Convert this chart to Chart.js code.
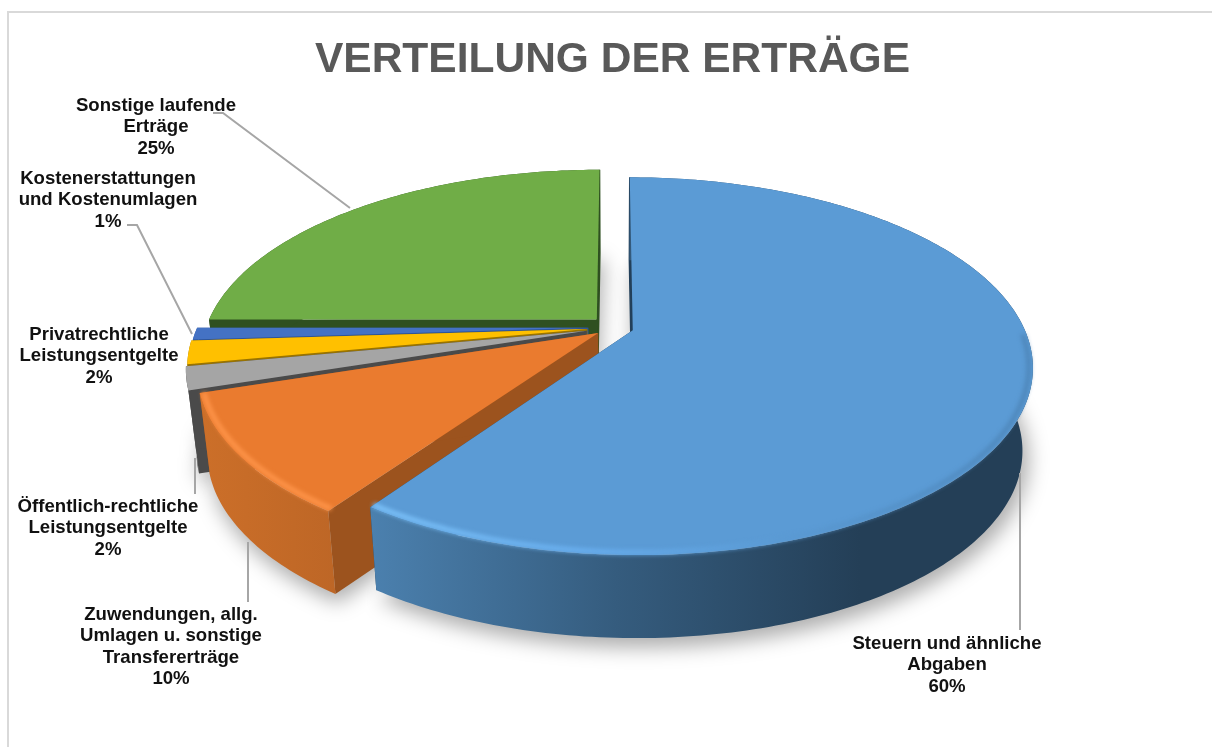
<!DOCTYPE html>
<html lang="de">
<head>
  <meta charset="UTF-8">
  <title>Verteilung der Erträge</title>
  <script src="https://cdn.jsdelivr.net/npm/chart.js"></script>
  <style>
    html, body { margin: 0; padding: 0; background: #fff; }
    canvas { display: block; }
  </style>
</head>
<body>
  <canvas id="pie" width="1212" height="747"></canvas>

  <script>
    const TITLE = 'VERTEILUNG DER ERTRÄGE';
    const categories = [
      ['Steuern und ähnliche', 'Abgaben'],
      ['Zuwendungen, allg.', 'Umlagen u. sonstige', 'Transfererträge'],
      ['Öffentlich-rechtliche', 'Leistungsentgelte'],
      ['Privatrechtliche', 'Leistungsentgelte'],
      ['Kostenerstattungen', 'und Kostenumlagen'],
      ['Sonstige laufende', 'Erträge']
    ];
    const values = [59.7, 10.3, 2, 2, 1, 25];

    const topColors = ['#5b9bd5', '#ea7b2f', '#a5a5a5', '#ffc000', '#4472c4', '#70ad47'];
    const wallColors = ['#23405a', '#9c531e', '#4a4a4a', '#997300', '#2f5597', '#2f5021'];
    const explode = [16, 16, 23, 22, 21, 20];

    // label block: centre x, y of first line; leader line points
    const labelSpots = [
      { x: 947, y: 644, leader: [[1020, 473], [1020, 630]] },
      { x: 171, y: 615, leader: [[248, 542], [248, 602]] },
      { x: 108, y: 507, leader: [[195, 458], [195, 494]] },
      { x: 99, y: 335, leader: null },
      { x: 108, y: 179, leader: [[127, 225], [137, 225], [192, 334]] },
      { x: 156, y: 106, leader: [[213, 113], [223, 113], [350, 208]] }
    ];

    // perspective view of the pie disc
    const VIEW = { cx: 614, cy: 327.5, rx: 391, ry: 181, k: 0.19, depth: 83, baseScale: 0.975 };

    function project(u, v, low) {
      const w = 1 + VIEW.k * v;
      const sx = u * VIEW.rx / w * (low ? VIEW.baseScale : 1);
      const sy = -v * VIEW.ry / w;
      return [VIEW.cx + sx, VIEW.cy + sy + (low ? VIEW.depth : 0)];
    }

    // point of a slice in screen space, from the arc element chart.js laid out
    function slicePoint(el, angle, frac, low) {
      const mid = (el.startAngle + el.endAngle) / 2;
      const off = el.options.offset / el.outerRadius;
      const u = Math.cos(mid) * off + Math.cos(angle) * frac;
      const v = -(Math.sin(mid) * off + Math.sin(angle) * frac);
      return project(u, v, low);
    }

    function arcPoints(el, frac, low, frontOnly) {
      const pts = [];
      const steps = Math.max(4, Math.ceil((el.endAngle - el.startAngle) * 60));
      for (let i = 0; i <= steps; i++) {
        const a = el.startAngle + (el.endAngle - el.startAngle) * i / steps;
        if (frontOnly && Math.sin(a) < 0.02) continue;
        pts.push(slicePoint(el, a, frac, low));
      }
      return pts;
    }

    function tracePoly(ctx, pts) {
      ctx.beginPath();
      pts.forEach((p, i) => i ? ctx.lineTo(p[0], p[1]) : ctx.moveTo(p[0], p[1]));
      ctx.closePath();
    }

    function sideFill(ctx, index) {
      if (index === 0) {
        const g = ctx.createLinearGradient(372, 0, 860, 0);
        g.addColorStop(0, '#4b80ae');
        g.addColorStop(0.5, '#355c7e');
        g.addColorStop(1, '#243f57');
        return g;
      }
      if (index === 1) {
        const g = ctx.createLinearGradient(200, 0, 340, 0);
        g.addColorStop(0, '#cc6f29');
        g.addColorStop(1, '#bd6626');
        return g;
      }
      return wallColors[index];
    }

    function rimStroke(ctx, index) {
      const g = ctx.createLinearGradient(372, 0, 1030, 0);
      if (index === 0) {
        g.addColorStop(0, 'rgba(125,195,250,1)');
        g.addColorStop(0.35, 'rgba(105,175,240,0.9)');
        g.addColorStop(0.6, 'rgba(91,155,213,0.9)');
        g.addColorStop(1, 'rgba(75,130,180,0.8)');
        return g;
      }
      if (index === 1) return 'rgba(255,150,75,0.95)';
      return null;
    }

    function drawSlice(ctx, el, index) {
      const centerTop = slicePoint(el, el.startAngle, 0, false);
      const centerLow = slicePoint(el, el.startAngle, 0, true);
      const top = arcPoints(el, 1, false);
      const low = arcPoints(el, 1, true);

      // the two radial walls, the ones seen nearly edge-on get a hairline
      ctx.fillStyle = ctx.strokeStyle = wallColors[index];
      ctx.lineWidth = 1.5;
      [0, top.length - 1].forEach(i => {
        tracePoly(ctx, [centerTop, top[i], low[i], centerLow]);
        ctx.fill();
        if ((index === 0 && i === 0) || (index === 5 && i > 0)) ctx.stroke();
      });

      // outer side
      ctx.fillStyle = sideFill(ctx, index);
      tracePoly(ctx, top.concat(low.slice().reverse()));
      ctx.fill();

      // top face
      ctx.fillStyle = topColors[index];
      tracePoly(ctx, [centerTop].concat(top));
      ctx.fill();

      // bevel along the front rim
      const rim = rimStroke(ctx, index);
      if (rim) {
        ctx.save();
        ctx.filter = 'blur(2px)';
        ctx.strokeStyle = rim;
        ctx.lineWidth = 5;
        ctx.lineJoin = 'round';
        ctx.beginPath();
        arcPoints(el, 0.99, false, true).forEach((p, i) => i ? ctx.lineTo(p[0], p[1]) : ctx.moveTo(p[0], p[1]));
        ctx.stroke();
        ctx.restore();
      }
    }

    const pie3d = {
      id: 'pie3d',
      beforeDraw(chart) {
        const ctx = chart.ctx;
        ctx.save();
        ctx.strokeStyle = '#d9d9d9';
        ctx.lineWidth = 2;
        ctx.beginPath();
        ctx.moveTo(8, 747);
        ctx.lineTo(8, 12);
        ctx.lineTo(1212, 12);
        ctx.stroke();
        ctx.restore();
      },
      beforeDatasetsDraw(chart) {
        const ctx = chart.ctx;
        const arcs = chart.getDatasetMeta(0).data;
        ctx.save();

        // soft ground shadow
        ctx.save();
        ctx.filter = 'blur(10px)';
        ctx.fillStyle = 'rgba(0,0,0,0.32)';
        arcs.forEach(el => {
          const low = arcPoints(el, 1.005, true);
          tracePoly(ctx, [slicePoint(el, el.startAngle, 0, true)].concat(low.map(p => [p[0] + 4, p[1] + 8])));
          ctx.fill();
        });
        ctx.restore();

        // back to front: green first, blue last
        [5, 4, 3, 2, 1, 0].forEach(i => drawSlice(ctx, arcs[i], i));

        // leader lines and labels
        ctx.strokeStyle = '#a6a6a6';
        ctx.lineWidth = 2;
        ctx.fillStyle = '#111';
        ctx.font = 'bold 18.6px "Liberation Sans", Arial, sans-serif';
        ctx.textAlign = 'center';
        ctx.textBaseline = 'middle';
        const total = values.reduce((a, b) => a + b, 0);
        categories.forEach((lines, i) => {
          const spot = labelSpots[i];
          if (spot.leader) {
            ctx.beginPath();
            spot.leader.forEach((p, j) => j ? ctx.lineTo(p[0], p[1]) : ctx.moveTo(p[0], p[1]));
            ctx.stroke();
          }
          lines.concat(Math.round(values[i] / total * 100) + '%').forEach((text, j) => {
            ctx.fillText(text, spot.x, spot.y + j * 21.3);
          });
        });

        ctx.restore();
        return false;
      }
    };

    new Chart(document.getElementById('pie'), {
      type: 'pie',
      data: {
        labels: categories.map(c => c.join(' ')),
        datasets: [{ data: values, backgroundColor: topColors, offset: explode, borderWidth: 0 }]
      },
      options: {
        responsive: false,
        animation: false,
        layout: { padding: { left: 13 } },
        plugins: {
          legend: { display: false },
          tooltip: { enabled: false },
          title: {
            display: true,
            text: TITLE,
            color: '#595959',
            font: { family: '"Liberation Sans", Arial, sans-serif', size: 42.5, weight: 'bold' },
            padding: { top: 35, bottom: 0 }
          }
        }
      },
      plugins: [pie3d]
    });
  </script>
</body>
</html>
